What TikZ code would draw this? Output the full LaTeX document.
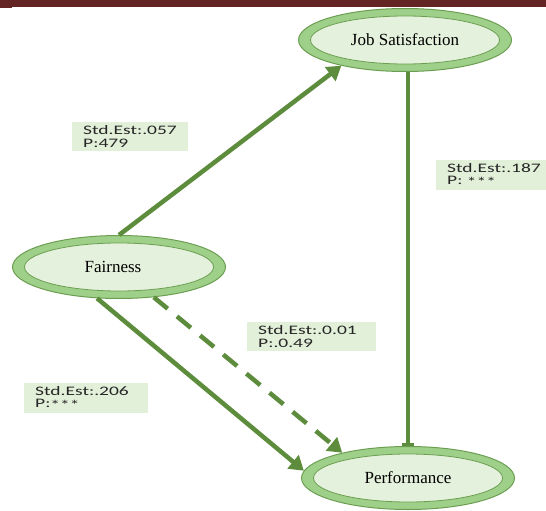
\documentclass[tikz,border=0pt]{standalone}
\usepackage{fontspec}
\setmainfont{Liberation Serif}
\newfontfamily\labfont[FakeStretch=1.5]{Carlito}
\usetikzlibrary{shapes.geometric,arrows.meta}
\definecolor{barred}{HTML}{632423}
\definecolor{arrowgreen}{HTML}{5C8C3C}
\definecolor{ringgreen}{HTML}{9FD089}
\definecolor{ringedge}{HTML}{6C9E52}
\definecolor{innerfill}{HTML}{E4F1DC}
\definecolor{labfill}{HTML}{E2EFD9}
\definecolor{labtext}{HTML}{262626}
\newcommand\lowstars{\raisebox{-1.8pt}{***}}
\tikzset{
  outerell/.style={ellipse, draw=ringedge, line width=1pt, fill=ringgreen,
    minimum width=213pt, minimum height=63pt, inner sep=0pt},
  innerell/.style={ellipse, draw=ringedge, line width=0.8pt, fill=innerfill,
    minimum width=189pt, minimum height=48pt, inner sep=0pt, font=\fontsize{17}{19}\selectfont},
  conn/.style={draw=arrowgreen, line width=4.5pt, -{Triangle[length=14pt,width=17pt]}},
  labbox/.style={fill=labfill, text=labtext, align=left, anchor=north west,
    inner xsep=11pt, inner ysep=3pt, minimum height=29pt, text width=#1,
    font=\labfont\fontsize{13}{12.5}\selectfont},
}
\begin{document}
\begin{tikzpicture}[x=1pt,y=-1pt]
\useasboundingbox (0,0) rectangle (546,511);
\fill[white] (0,0) rectangle (546,511);
\fill[barred] (0,0) rectangle (546,7);
\fill[barred] (0,0) rectangle (12,8.5);

% ellipses
\node[outerell] (js) at (405,40) {};
\node[innerell] (jsi) at (js) {Job Satisfaction};
\node[outerell] (fa) at (119,267) {};
\node[innerell] (fai) at (fa) {\hspace*{-12pt}Fairness};
\node[outerell] (pf) at (408,478) {};
\node[innerell] (pfi) at (pf) {Performance};

% connectors
\draw[conn] (fa.north) -- (js.202);
\draw[conn] (fa.235) -- (pf.176);
\draw[conn, dash pattern=on 18pt off 12pt] (fa.319) -- (pf.159);
\draw[draw=arrowgreen, line width=4.5pt, -{Rectangle[length=3pt,width=12pt]}]
  (pf.north |- js.south) -- (pf.north);

% labels
\node[labbox=94pt] (l1) at (72,122) {Std.Est:.057\\P:479};
\node[labbox=100pt] (l2) at (436,160) {Std.Est:.187\\P: \lowstars};
\node[labbox=107pt] (l3) at (247,322) {Std.Est:.0.01\\P:.0.49};
\node[labbox=102pt] (l4) at (24,383) {Std.Est:.206\\P:\lowstars};
\end{tikzpicture}
\end{document}
